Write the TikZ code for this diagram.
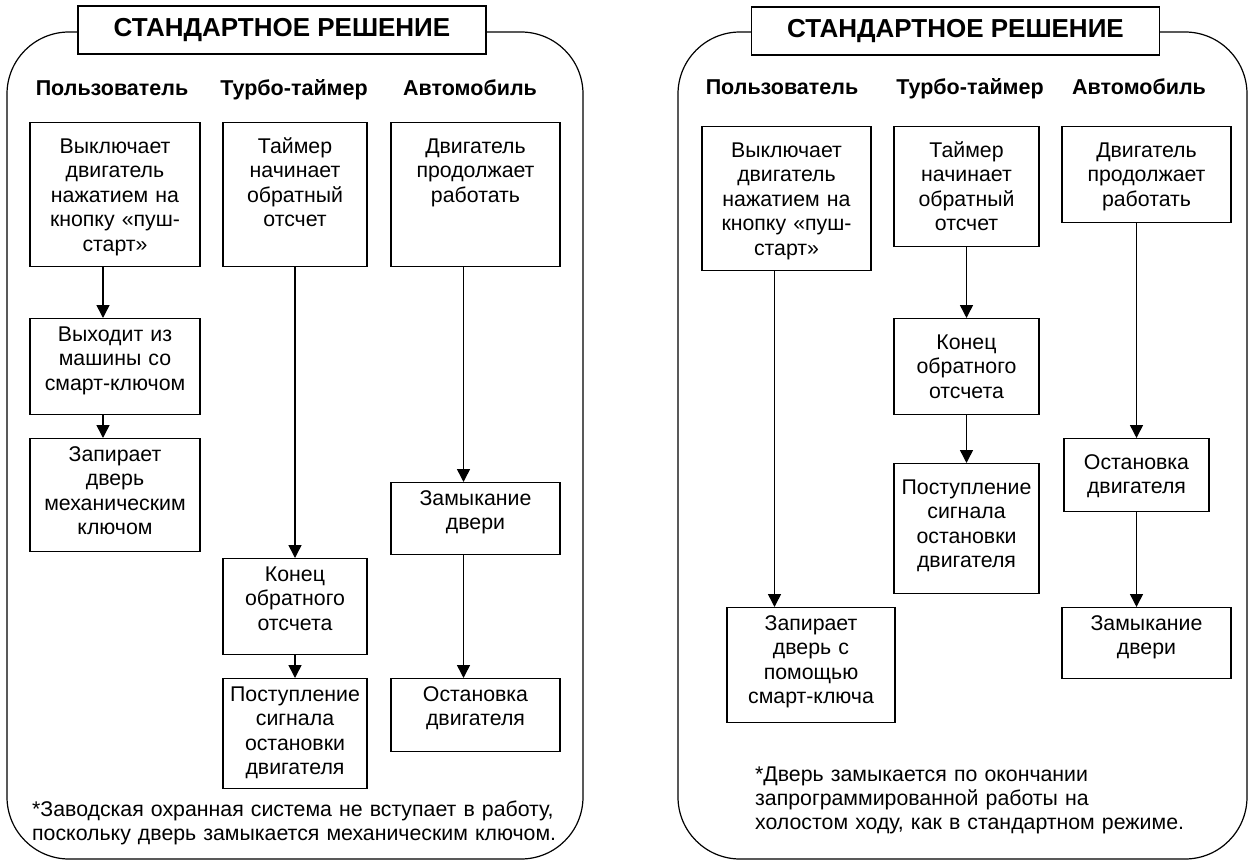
\documentclass[tikz,border=0pt]{standalone}
\usepackage{fontspec}
\setmainfont{Liberation Sans}
\usetikzlibrary{positioning}
\usetikzlibrary{arrows.meta}

\begin{document}
\begin{tikzpicture}[x=1pt,y=-1pt]

          \tikzstyle{panelEdge} = [line width=1.2pt, rounded corners=62pt];
          \tikzstyle{titleNode} = [draw, fill=white, line width=1.4pt, minimum width=408pt, minimum height=48pt, inner sep=0pt, font=\fontsize{26}{30}\selectfont\bfseries];
          \tikzstyle{headNode} = [anchor=base, inner sep=0pt, font=\fontsize{21.5}{25}\selectfont\bfseries];
          \tikzstyle{blockNode} = [draw, line width=1.4pt, anchor=north, align=center, inner sep=0pt, text height=30.5pt, font=\fontsize{21.3}{24.5}\selectfont];
          \tikzstyle{blockNodeLow} = [blockNode, text height=22.5pt];
          \tikzstyle{noteNode} = [anchor=base west, align=left, inner sep=0pt, text width=560pt, font=\fontsize{21.3}{24.3}\selectfont];
          \tikzstyle{flowEdge} = [line width=1.5pt, -{Triangle[width=13pt,length=13pt]}];

          \useasboundingbox (0,0) rectangle (1250,861);

          % left panel
          \draw[panelEdge] (7,32) rectangle (583,859);
          \node[titleNode] (leftTitle) at (282,30) {СТАНДАРТНОЕ РЕШЕНИЕ};

          \node[headNode] (leftUser) at (112,96) {Пользователь};
          \node[headNode] (leftTimer) at (294,96) {Турбо-таймер};
          \node[headNode] (leftCar) at (470,96) {Автомобиль};

          \node[blockNode, text width=170pt, text depth=113.5pt] (lu1) at (115,122) {Выключает\\двигатель\\нажатием на\\кнопку «пуш-\\старт»};
          \node[blockNodeLow, text width=170pt, text depth=73.5pt] (lu2) at (115,318) {Выходит из\\машины со\\смарт-ключом};
          \node[blockNodeLow, text width=170pt, text depth=90.5pt] (lu3) at (115,438) {Запирает\\дверь\\механическим\\ключом};

          \node[blockNode, text width=144pt, text depth=113.5pt] (lt1) at (295,122) {Таймер\\начинает\\обратный\\отсчет};
          \node[blockNodeLow, text width=144pt, text depth=73.5pt] (lt2) at (295,558) {Конец\\обратного\\отсчета};
          \node[blockNodeLow, text width=144pt, text depth=87.5pt] (lt3) at (295,678) {Поступление\\сигнала\\остановки\\двигателя};

          \node[blockNode, text width=169pt, text depth=113.5pt] (la1) at (475.5,122) {Двигатель\\продолжает\\работать};
          \node[blockNodeLow, text width=169pt, text depth=49.5pt] (la2) at (475.5,482) {Замыкание\\двери};
          \node[blockNodeLow, text width=169pt, text depth=50.5pt] (la3) at (475.5,678) {Остановка\\двигателя};

          \node[noteNode] (leftNote) at (32,816) {*Заводская охранная система не вступает в работу,\\поскольку дверь замыкается механическим ключом.};

          \draw[flowEdge] ([xshift=-12pt]lu1.south) -- ([xshift=-12pt]lu1.south |- lu2.north);
          \draw[flowEdge] ([xshift=-12pt]lu2.south) -- ([xshift=-12pt]lu2.south |- lu3.north);
          \draw[flowEdge] (lt1) -- (lt2);
          \draw[flowEdge] (lt2) -- (lt3);
          \draw[flowEdge] ([xshift=-12pt]la1.south) -- ([xshift=-12pt]la1.south |- la2.north);
          \draw[flowEdge] ([xshift=-12pt]la2.south) -- ([xshift=-12pt]la2.south |- la3.north);

          % right panel
          \draw[panelEdge] (678,32) rectangle (1247,859);
          \node[titleNode] (rightTitle) at (955.5,31) {СТАНДАРТНОЕ РЕШЕНИЕ};

          \node[headNode] (rightUser) at (782,95) {Пользователь};
          \node[headNode] (rightTimer) at (970,95) {Турбо-таймер};
          \node[headNode] (rightCar) at (1139,95) {Автомобиль};

          \node[blockNode, text width=169pt, text depth=113.5pt] (ru1) at (786.5,126) {Выключает\\двигатель\\нажатием на\\кнопку «пуш-\\старт»};
          \node[blockNodeLow, text width=168pt, text depth=92.5pt] (ru2) at (811,607) {Запирает\\дверь с\\помощью\\смарт-ключа};

          \node[blockNode, text width=145pt, text depth=89.5pt] (rt1) at (966.5,126) {Таймер\\начинает\\обратный\\отсчет};
          \node[blockNode, text width=145pt, text depth=65.5pt] (rt2) at (966.5,318) {Конец\\обратного\\отсчета};
          \node[blockNode, text width=145pt, text depth=99.5pt] (rt3) at (966.5,463) {Поступление\\сигнала\\остановки\\двигателя};

          \node[blockNode, text width=169pt, text depth=65.5pt] (ra1) at (1146.5,126) {Двигатель\\продолжает\\работать};
          \node[blockNode, text width=145pt, text depth=42.5pt] (ra2) at (1136.5,438) {Остановка\\двигателя};
          \node[blockNodeLow, text width=169pt, text depth=48.5pt] (ra3) at (1146.5,607) {Замыкание\\двери};

          \node[noteNode] (rightNote) at (755,781) {*Дверь замыкается по окончании\\запрограммированной работы на\\холостом ходу, как в стандартном режиме.};

          \draw[flowEdge] ([xshift=-12pt]ru1.south) -- ([xshift=-12pt]ru1.south |- ru2.north);
          \draw[flowEdge] (rt1) -- (rt2);
          \draw[flowEdge] (rt2) -- (rt3);
          \draw[flowEdge] ([xshift=-10pt]ra1.south) -- ([xshift=-10pt]ra1.south |- ra2.north);
          \draw[flowEdge] (ra2.south) -- (ra2.south |- ra3.north);
        \end{tikzpicture}
\end{document}
